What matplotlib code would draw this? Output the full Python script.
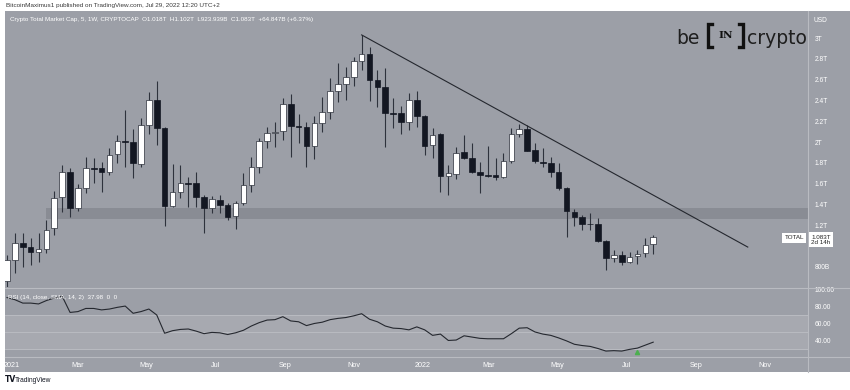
import matplotlib
matplotlib.use('Agg')
import matplotlib.pyplot as plt
import matplotlib.dates as mdates
from matplotlib.patches import Rectangle
from matplotlib.lines import Line2D
import numpy as np
import pandas as pd

# ---------------- data (weekly candles, values in trillions USD) ----------------
week_start = '2020-12-28'
n_weeks = 83
opens = [0.663, 0.865, 1.029, 0.990, 0.942, 0.971, 1.173, 1.471, 1.712, 1.365,
         1.558, 1.750, 1.750, 1.712, 1.885, 2.010, 2.000, 1.788, 2.163, 2.404,
         2.135, 1.385, 1.519, 1.606, 1.606, 1.471, 1.365, 1.442, 1.394, 1.288,
         1.413, 1.587, 1.760, 2.010, 2.087, 2.106, 2.365, 2.154, 2.144, 1.962,
         2.183, 2.288, 2.490, 2.558, 2.625, 2.779, 2.846, 2.596, 2.529, 2.279,
         2.279, 2.192, 2.404, 2.250, 1.971, 2.077, 1.673, 1.692, 1.904, 1.846,
         1.712, 1.683, 1.683, 1.663, 1.817, 2.077, 2.125, 1.923, 1.808, 1.798,
         1.712, 1.558, 1.327, 1.279, 1.212, 1.212, 1.048, 0.885, 0.913, 0.846,
         0.904, 0.933, 1.018]
highs = [0.913, 1.125, 1.125, 1.077, 1.125, 1.250, 1.529, 1.779, 1.750, 1.596,
         1.856, 1.846, 1.808, 1.942, 2.067, 2.308, 2.125, 2.231, 2.481, 2.587,
         2.144, 1.788, 1.779, 1.663, 1.712, 1.490, 1.481, 1.490, 1.413, 1.433,
         1.702, 1.856, 2.038, 2.144, 2.192, 2.423, 2.462, 2.269, 2.192, 2.250,
         2.433, 2.615, 2.760, 2.721, 2.817, 3.029, 2.913, 2.692, 2.712, 2.423,
         2.346, 2.471, 2.490, 2.260, 2.135, 2.087, 1.779, 1.952, 2.067, 1.990,
         1.808, 1.962, 1.846, 1.894, 2.135, 2.173, 2.163, 1.990, 1.942, 1.856,
         1.798, 1.567, 1.356, 1.298, 1.317, 1.269, 1.058, 0.962, 0.952, 0.942,
         0.962, 1.077, 1.102]
lows = [0.610, 0.740, 0.798, 0.817, 0.846, 0.933, 1.106, 1.327, 1.279, 1.337,
        1.510, 1.606, 1.519, 1.683, 1.798, 1.760, 1.654, 1.760, 2.077, 1.971,
        1.192, 1.375, 1.462, 1.375, 1.375, 1.125, 1.317, 1.317, 1.250, 1.163,
        1.394, 1.519, 1.702, 1.942, 1.952, 2.019, 1.856, 1.990, 1.760, 1.837,
        2.096, 2.221, 2.385, 2.404, 2.538, 2.692, 2.394, 2.337, 1.952, 2.135,
        2.077, 2.115, 2.144, 1.875, 1.846, 1.519, 1.490, 1.644, 1.837, 1.702,
        1.510, 1.663, 1.635, 1.654, 1.798, 2.048, 1.913, 1.798, 1.760, 1.663,
        1.538, 1.087, 1.192, 1.154, 1.154, 1.038, 0.769, 0.846, 0.817, 0.837,
        0.827, 0.894, 0.924]
closes = [0.865, 1.029, 0.990, 0.942, 0.971, 1.154, 1.462, 1.712, 1.365, 1.558,
          1.750, 1.740, 1.712, 1.875, 2.010, 2.000, 1.798, 2.163, 2.404, 2.135,
          1.385, 1.519, 1.606, 1.596, 1.471, 1.365, 1.452, 1.394, 1.279, 1.413,
          1.587, 1.760, 2.010, 2.087, 2.096, 2.365, 2.154, 2.144, 1.962, 2.183,
          2.288, 2.490, 2.558, 2.625, 2.779, 2.846, 2.596, 2.529, 2.279, 2.269,
          2.192, 2.404, 2.250, 1.962, 2.067, 1.673, 1.702, 1.894, 1.846, 1.712,
          1.683, 1.678, 1.663, 1.817, 2.077, 2.125, 1.913, 1.817, 1.798, 1.712,
          1.558, 1.337, 1.279, 1.212, 1.207, 1.048, 0.885, 0.913, 0.846, 0.894,
          0.923, 1.010, 1.083]
rsi = [90.5, 88, 84, 84, 83, 87, 90, 92, 73, 74,
       77.7, 77.7, 76, 77, 79, 80.5, 72, 74, 77, 70,
       48.5, 51.5, 53, 53.5, 51, 48, 49.5, 49, 47, 49,
       52, 57, 61, 64, 64.5, 68, 63, 62, 57.5, 60,
       61.5, 64.5, 66, 67, 69, 71.5, 65, 62, 57, 54.5,
       54, 52.5, 56, 52.5, 46, 47.5, 40, 40.5, 45.5, 44,
       42.5, 42, 42, 42, 48, 54.5, 55, 50, 47.5, 46,
       43, 39.5, 35.5, 34, 33, 30.5, 27.5, 28, 27.5, 29.5,
       31, 34.5, 38]
support_zone = [1.264, 1.361]
support_start = '2021-02-01'
trend_dates = ['2021-11-08', '2022-10-17']
trend_values = [3.03, 0.99]
price_ticks = [0.8, 1.2, 1.4, 1.6, 1.8, 2.0, 2.2, 2.4, 2.6, 2.8, 3.0]
price_labels = ['800B', '1.2T', '1.4T', '1.6T', '1.8T', '2T', '2.2T', '2.4T', '2.6T', '2.8T', '3T']
rsi_ticks = [40, 60, 80, 100]
rsi_labels = ['40.00', '60.00', '80.00', '100.00']
time_ticks = ['2021-01-01', '2021-03-01', '2021-05-01', '2021-07-01', '2021-09-01', '2021-11-01',
              '2022-01-01', '2022-03-01', '2022-05-01', '2022-07-01', '2022-09-01', '2022-11-01']
time_labels = ['2021', 'Mar', 'May', 'Jul', 'Sep', 'Nov', '2022', 'Mar', 'May', 'Jul', 'Sep', 'Nov']
last_close = 1.083
signal_week = 80
signal_rsi = 26.0

# ---------------- figure ----------------
W, H = 850, 390
fig = plt.figure(figsize=(W / 100, H / 100), dpi=100)
fig.patch.set_facecolor('white')
SMALL = ['Liberation Sans', 'DejaVu Sans']


def rect(x0, y0, x1, y1):
    return [x0 / W, 1 - y1 / H, (x1 - x0) / W, (y1 - y0) / H]


def fx(x):
    return x / W


def fy(y):
    return 1 - y / H


BG = '#9c9fa7'
BAND = '#898c94'
RSI_BAND = '#a7a9b0'
LINE_LIGHT = '#b9bbc1'
DARK = '#131722'
WICK = '#2e323c'

fig.add_artist(Rectangle((fx(5), fy(372)), fx(845), 361 / H, transform=fig.transFigure,
                         facecolor=BG, edgecolor='none', zorder=0))

dates = pd.date_range(week_start, periods=n_weeks, freq='7D')
xd = mdates.date2num(dates)
x0 = mdates.date2num(pd.Timestamp(week_start)) - 1.8
x1 = mdates.date2num(pd.Timestamp(week_start)) + 711.5

# ---- main price panel ----
ax = fig.add_axes(rect(5, 11, 808, 287))
ax.set_facecolor(BG)
for s in ax.spines.values():
    s.set_visible(False)
ax.set_xlim(x0, x1)
ax.set_ylim(0.606, 3.26)

bs = mdates.date2num(pd.Timestamp(support_start))
ax.fill_between([bs, x1], support_zone[0], support_zone[1], color=BAND, lw=0, zorder=1)

o = np.array(opens); h = np.array(highs); l = np.array(lows); c = np.array(closes)
ax.vlines(xd, l, h, color=WICK, lw=0.8, zorder=2)
up = c >= o
bottom = np.minimum(o, c)
height = np.maximum(np.abs(c - o), 0.004)
ax.bar(xd[up], height[up], bottom=bottom[up], width=5.0, color='white',
       edgecolor='#2a2e39', lw=0.5, zorder=3)
ax.bar(xd[~up], height[~up], bottom=bottom[~up], width=5.0, color=DARK,
       edgecolor=DARK, lw=0.5, zorder=3)

td = mdates.date2num(pd.to_datetime(trend_dates))
ax.plot(td, trend_values, color='#24272e', lw=0.8, zorder=4)

ax.yaxis.tick_right()
ax.set_yticks(price_ticks)
ax.set_yticklabels(price_labels, family=SMALL)
ax.tick_params(axis='y', length=0, pad=5, labelsize=4.8, labelcolor='white')
ax.set_xticks([])

# ---- RSI panel ----
ar = fig.add_axes(rect(5, 289, 808, 356))
ar.set_facecolor(BG)
for s in ar.spines.values():
    s.set_visible(False)
ar.set_xlim(x0, x1)
ar.set_ylim(21.7, 100.6)
ar.axhspan(30, 70, color=RSI_BAND, lw=0, zorder=1)
for lvl in (30, 50, 70):
    ar.axhline(lvl, color=LINE_LIGHT, lw=0.7, zorder=1.5)
ar.plot(xd, rsi, color='#25282f', lw=0.8, zorder=3)
ar.plot([xd[signal_week]], [signal_rsi], marker='^', color='#4caf50', ms=3, zorder=4)
ar.yaxis.tick_right()
ar.set_yticks(rsi_ticks)
ar.set_yticklabels(rsi_labels, family=SMALL)
ar.tick_params(axis='y', length=0, pad=5, labelsize=4.8, labelcolor='white')
ar.set_xticks(mdates.date2num(pd.to_datetime(time_ticks)))
ar.set_xticklabels(time_labels, family=SMALL)
ar.tick_params(axis='x', length=0, pad=4.5, labelsize=5.2, labelcolor='white')

# separators
fig.add_artist(Line2D([fx(5), fx(850)], [fy(288), fy(288)], transform=fig.transFigure,
                      color=LINE_LIGHT, lw=0.8))
fig.add_artist(Line2D([fx(5), fx(850)], [fy(357), fy(357)], transform=fig.transFigure,
                      color=LINE_LIGHT, lw=0.8))
fig.add_artist(Line2D([fx(808), fx(808)], [fy(11), fy(372)], transform=fig.transFigure,
                      color=LINE_LIGHT, lw=0.8))

# ---- texts ----
fig.text(fx(6), fy(5), 'BitcoinMaximus1 published on TradingView.com, Jul 29, 2022 12:20 UTC+2',
         fontsize=4.6, family=SMALL, color='#3a3a3a', va='center', ha='left')
fig.text(fx(10), fy(19.5),
         'Crypto Total Market Cap, 5, 1W, CRYPTOCAP  O1.018T  H1.102T  L923.939B  C1.083T  +64.847B (+6.37%)',
         fontsize=4.5, family=SMALL, color='white', va='center', ha='left')
fig.text(fx(8), fy(297), 'RSI (14, close, SMA, 14, 2)  37.98  0  0',
         fontsize=4.5, family=SMALL, color='white', va='center', ha='left')
fig.text(fx(813), fy(20.5), 'USD', fontsize=4.8, family=SMALL, color='white', va='center', ha='left')

yp = 38 + (3 - last_close) * 104
fig.text(fx(804), fy(yp + 0.5), 'TOTAL', fontsize=4.5, family=SMALL, color='#222', va='center', ha='right',
         bbox=dict(boxstyle='square,pad=0.35', fc='white', ec='none'))
fig.text(fx(811), fy(yp + 2.5), '1.083T\n2d 14h', fontsize=4.5, family=SMALL, color='#222', va='center',
         ha='left', linespacing=1.1, bbox=dict(boxstyle='square,pad=0.35', fc='white', ec='none'))

# beincrypto logo
fig.text(fx(676), fy(44), 'be', fontsize=13.5, color='#1e1e1e', va='baseline', ha='left')
for xs in ((712, 708, 708, 712), (739, 743, 743, 739)):
    fig.add_artist(Line2D([fx(v) for v in xs], [fy(24), fy(24), fy(47), fy(47)],
                          transform=fig.transFigure, color='#111', lw=2.4,
                          solid_joinstyle='miter'))
fig.text(fx(725.5), fy(36), 'IN', fontsize=7.5, fontweight='bold', family='DejaVu Serif',
         color='#111', va='center', ha='center')
fig.text(fx(747), fy(44), 'crypto', fontsize=13.5, color='#1e1e1e', va='baseline', ha='left')

# TradingView footer
fig.text(fx(5), fy(380), 'TV', fontsize=5.5, fontweight='bold', color='#131722', va='center', ha='left')
fig.text(fx(15), fy(380), 'TradingView', fontsize=4.8, family=SMALL, color='#131722', va='center', ha='left')

fig.savefig('out.png', dpi=100)
